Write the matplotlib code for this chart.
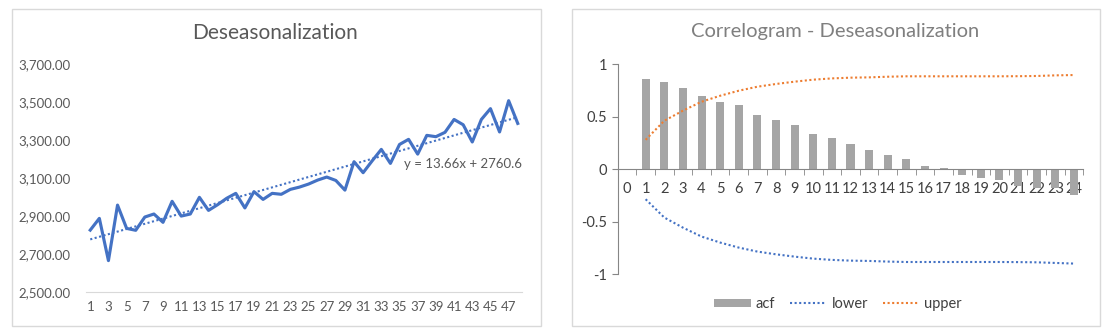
import numpy as np
import matplotlib.pyplot as plt
from matplotlib.patches import Rectangle
from matplotlib.ticker import FuncFormatter

plt.rcParams['font.family'] = ['Lato', 'DejaVu Sans']

# deseasonalized series (periods 1..48)
periods = list(range(1, 49))
deseason = [2825, 2887, 2664, 2957, 2834, 2824, 2894, 2910, 2866, 2977,
            2899, 2910, 2998, 2929, 2959, 2993, 3019, 2942, 3028, 2987,
            3019, 3014, 3040, 3052, 3068, 3089, 3105, 3087, 3036, 3186,
            3128, 3191, 3251, 3177, 3277, 3304, 3226, 3325, 3318, 3341,
            3409, 3381, 3290, 3409, 3466, 3343, 3508, 3388]
trend_label = "y = 13.66x + 2760.6"

# correlogram
lags = list(range(0, 25))
acf = [None, 0.860, 0.832, 0.775, 0.698, 0.641, 0.613, 0.517, 0.470, 0.422,
       0.337, 0.298, 0.241, 0.184, 0.137, 0.098, 0.032, 0.013, -0.054,
       -0.083, -0.102, -0.162, -0.175, -0.175, -0.244]
upper = [None, 0.279, 0.460, 0.556, 0.641, 0.698, 0.746, 0.784, 0.810, 0.832,
         0.851, 0.863, 0.870, 0.873, 0.879, 0.883, 0.883, 0.883, 0.883,
         0.883, 0.883, 0.884, 0.886, 0.892, 0.895]
lower = [None, -0.286, -0.460, -0.556, -0.641, -0.698, -0.746, -0.784, -0.810,
         -0.832, -0.851, -0.863, -0.870, -0.873, -0.879, -0.883, -0.883,
         -0.883, -0.883, -0.883, -0.883, -0.884, -0.886, -0.892, -0.898]

W, H = 1107, 331
fig = plt.figure(figsize=(W / 100, H / 100), dpi=100)

# chart borders
for x0, x1 in [(12, 541), (572, 1100)]:
    fig.patches.append(Rectangle((x0 / W, 1 - 326 / H), (x1 - x0) / W, 317 / H,
                                 transform=fig.transFigure, fill=False,
                                 edgecolor='#D9D9D9', lw=1))

GREY = '#595959'

# ---- left chart
ax1 = fig.add_axes([85.7 / W, 1 - 291.7 / H, (522.3 - 85.7) / W, (291.7 - 64.3) / H])
x = np.array(periods)
ax1.plot(x, deseason, color='#4472C4', lw=2.25, solid_joinstyle='round')
coef = np.polyfit(x, deseason, 1)
ax1.plot(x, np.polyval(coef, x), color='#4472C4', lw=1.5, ls=(0, (1, 1.2)))
ax1.text(42, 3174, trend_label, ha='center', va='center', fontsize=9.5, color=GREY)
ax1.set_xlim(0.5, 48.5)
ax1.set_ylim(2500, 3700)
ax1.set_yticks(range(2500, 3701, 200))
ax1.yaxis.set_major_formatter(FuncFormatter(lambda v, p: f"{v:,.2f}"))
ax1.set_xticks(periods[::2])
for s in ['top', 'right', 'left']:
    ax1.spines[s].set_visible(False)
ax1.spines['bottom'].set_color('#D9D9D9')
ax1.tick_params(length=0, labelsize=9.5, colors=GREY)
ax1.tick_params(axis='x', pad=7)
ax1.tick_params(axis='y', pad=11)
fig.text(275 / W, 1 - 33 / H, "Deseasonalization", ha='center', va='center',
         fontsize=15, color=GREY)

# ---- right chart
ax2 = fig.add_axes([617.7 / W, 1 - 274.3 / H, (1083.3 - 617.7) / W, (274.3 - 64) / H])
lag_arr = np.array(lags)
acf_v = np.array([np.nan if a is None else a for a in acf])
up_v = np.array([np.nan if a is None else a for a in upper])
lo_v = np.array([np.nan if a is None else a for a in lower])
b = ax2.bar(lag_arr, np.nan_to_num(acf_v), width=0.43, color='#A5A5A5', label='acf', zorder=2)
l1, = ax2.plot(lag_arr, lo_v, color='#4472C4', lw=1.5, ls=(0, (1, 1.2)), label='lower')
l2, = ax2.plot(lag_arr, up_v, color='#ED7D31', lw=1.5, ls=(0, (1, 1.2)), label='upper')
ax2.set_xlim(-0.5, 24.5)
ax2.set_ylim(-1, 1)
ax2.set_yticks([-1, -0.5, 0, 0.5, 1])
ax2.yaxis.set_major_formatter(FuncFormatter(lambda v, p: f"{v:g}"))
for s in ['top', 'right']:
    ax2.spines[s].set_visible(False)
ax2.spines['left'].set_color('#868686')
ax2.spines['bottom'].set_color('#868686')
ax2.spines['bottom'].set_position(('data', 0))
ax2.set_xticks(lags)
ax2.set_xticks(np.arange(-0.5, 25, 1), minor=True)
ax2.tick_params(axis='x', which='major', length=0, labelsize=10.5, colors='#404040', pad=9)
ax2.tick_params(axis='x', which='minor', length=4, color='#868686', direction='out')
ax2.tick_params(axis='y', length=4, color='#868686', labelsize=10.5, labelcolor='#404040')
ax2.legend([b, l1, l2], ['acf', 'lower', 'upper'], loc='center',
           bbox_to_anchor=(838 / W, 1 - 304 / H),
           bbox_transform=fig.transFigure, ncol=3, frameon=False, fontsize=10.5,
           labelcolor='#404040', handlelength=2.5, handleheight=0.5,
           columnspacing=1.0, handletextpad=0.35)
fig.text(835 / W, 1 - 32 / H, "Correlogram - Deseasonalization", ha='center',
         va='center', fontsize=14.5, color='#7F7F7F')

fig.savefig('out.png', dpi=100)
